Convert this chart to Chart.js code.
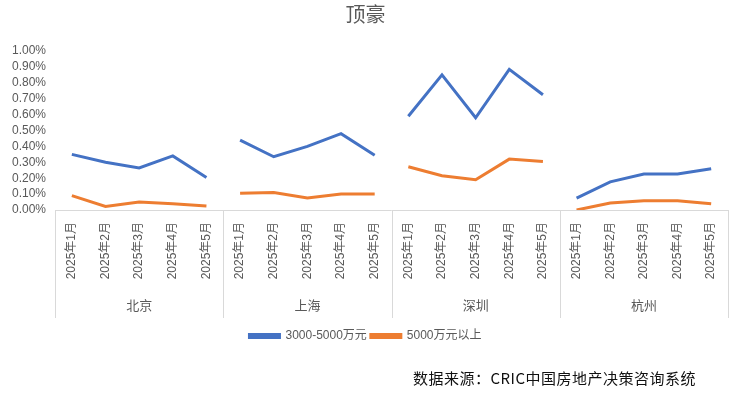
<!DOCTYPE html>
<html>
<head>
<meta charset="utf-8">
<script src="https://cdn.jsdelivr.net/npm/chart.js@4.4.0/dist/chart.umd.min.js"></script>
<style>
  html, body { margin: 0; padding: 0; background: #fff; }
  #wrap { position: relative; width: 743px; height: 394px; }
  #source {
    position: absolute; left: 413px; top: 367px;
    font-family: "Noto Sans CJK SC", sans-serif; font-size: 15px; color: #111;
    letter-spacing: 0.5px; white-space: nowrap; line-height: 22px;
  }
</style>
</head>
<body>
<div id="wrap">
  <canvas id="chart" width="743" height="394"></canvas>
  <div id="source">数据来源：CRIC中国房地产决策咨询系统</div>
</div>
<script>
// Categories: months repeated for each city
const months = ['2025年1月', '2025年2月', '2025年3月', '2025年4月', '2025年5月'];
const cities = ['北京', '上海', '深圳', '杭州'];

// Share values in percent
const midRange = [
    0.35, 0.30, 0.265, 0.34, 0.205,
    0.44, 0.335, 0.40, 0.48, 0.345,
    0.59, 0.85, 0.58, 0.885, 0.725,
    0.075, 0.177, 0.226, 0.226, 0.26
];
const highEnd = [
    0.09, 0.022, 0.05, 0.04, 0.025,
    0.105, 0.11, 0.075, 0.10, 0.10,
    0.272, 0.215, 0.19, 0.32, 0.305,
    0.0, 0.044, 0.058, 0.058, 0.04
];

const yTicks = [0, 0.1, 0.2, 0.3, 0.4, 0.5, 0.6, 0.7, 0.8, 0.9, 1.0];

const labels = [];
cities.forEach(() => months.forEach(m => labels.push(m)));

const FONT = '"Liberation Sans", "Noto Sans CJK SC", sans-serif';
const GRAY = '#595959';
const LINE_GRAY = '#d9d9d9';
const GROUP_DEPTH = 108;   // separator lines below the axis

// break the line between cities
const breakSegment = (color) => (ctx) => (ctx.p0DataIndex % months.length === months.length - 1 ? 'transparent' : color);

// group labels + separators under the axis
const groupAxis = {
    id: 'groupAxis',
    afterDraw(chart) {
        const ctx = chart.ctx;
        const area = chart.chartArea;
        const step = (area.right - area.left) / labels.length;
        const yTop = area.bottom;
        const yBot = area.bottom + GROUP_DEPTH;
        ctx.save();
        ctx.strokeStyle = LINE_GRAY;
        ctx.lineWidth = 1;
        ctx.beginPath();
        ctx.moveTo(area.left, Math.round(yTop) + 0.5);
        ctx.lineTo(area.right, Math.round(yTop) + 0.5);
        for (let g = 0; g <= cities.length; g++) {
            const gx = Math.round(area.left + g * months.length * step) + 0.5;
            ctx.moveTo(gx, yTop);
            ctx.lineTo(gx, yBot);
        }
        ctx.stroke();
        ctx.fillStyle = GRAY;
        ctx.font = '13px ' + FONT;
        ctx.textAlign = 'center';
        ctx.textBaseline = 'middle';
        cities.forEach((c, g) => {
            const cx = area.left + (g + 0.5) * months.length * step;
            ctx.fillText(c, cx, yBot - 12);
        });
        ctx.restore();
    }
};

new Chart(document.getElementById('chart'), {
    type: 'line',
    data: {
        labels: labels,
        datasets: [
            {
                label: '3000-5000万元',
                data: midRange,
                borderColor: '#4472C4',
                backgroundColor: '#4472C4',
                borderWidth: 3,
                pointRadius: 0,
                tension: 0,
                segment: { borderColor: breakSegment('#4472C4') }
            },
            {
                label: '5000万元以上',
                data: highEnd,
                borderColor: '#ED7D31',
                backgroundColor: '#ED7D31',
                borderWidth: 3,
                pointRadius: 0,
                tension: 0,
                segment: { borderColor: breakSegment('#ED7D31') }
            }
        ]
    },
    options: {
        responsive: false,
        animation: false,
        layout: { padding: { left: 3, right: 15, top: 0, bottom: 42 } },
        scales: {
            x: {
                offset: true,
                grid: { display: false, drawTicks: false },
                border: { display: false },
                ticks: {
                    autoSkip: false,
                    minRotation: 90,
                    maxRotation: 90,
                    color: GRAY,
                    padding: 12,
                    font: { family: FONT, size: 12 }
                },
                afterFit(scale) { scale.height = 116; }
            },
            y: {
                min: 0,
                max: 1.0,
                grid: { display: false, drawTicks: false },
                border: { display: false },
                afterBuildTicks(scale) { scale.ticks = yTicks.map(v => ({ value: v })); },
                ticks: {
                    autoSkip: false,
                    color: GRAY,
                    padding: 9,
                    font: { family: FONT, size: 12 },
                    callback: (v) => v.toFixed(2) + '%'
                }
            }
        },
        plugins: {
            title: {
                display: true,
                text: '顶豪',
                color: GRAY,
                font: { family: FONT, size: 20, weight: 'normal' },
                padding: { top: 4, bottom: 23 }
            },
            legend: {
                position: 'bottom',
                labels: {
                    boxWidth: 30,
                    boxHeight: 3,
                    color: GRAY,
                    padding: 4,
                    font: { family: FONT, size: 12 }
                }
            },
            tooltip: { enabled: false }
        }
    },
    plugins: [groupAxis]
});
</script>
</body>
</html>
